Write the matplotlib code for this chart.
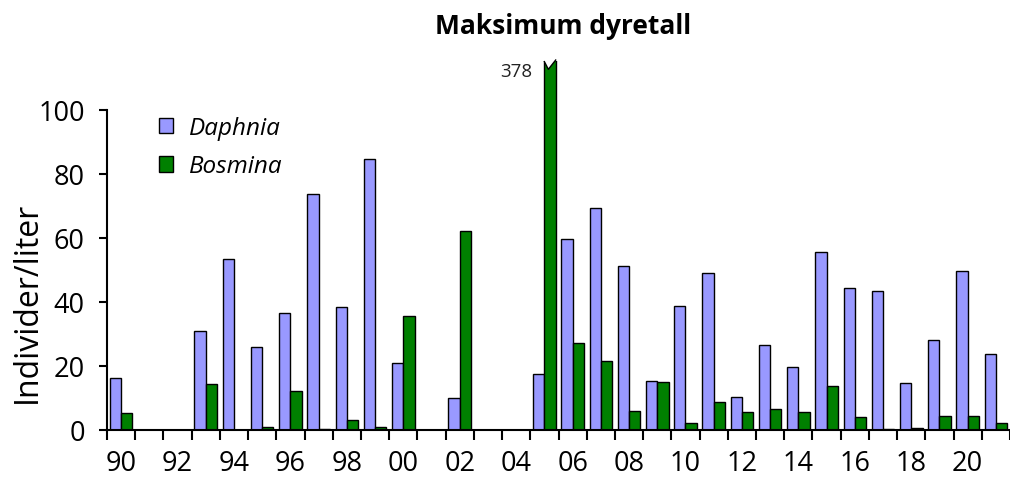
import matplotlib
matplotlib.use("Agg")
import matplotlib.pyplot as plt
from matplotlib.patches import Patch, Polygon
import numpy as np

plt.rcParams['font.family'] = ['Open Sans', 'DejaVu Sans']

years = list(range(1990, 2022))
daphnia = [16.4, 0, 0, 30.9, 53.5, 25.9, 36.6, 73.6, 38.5, 84.8, 20.8, 0, 10.0, 0, 0, 17.5,
           59.8, 69.3, 51.4, 15.4, 38.6, 49.0, 10.2, 26.7, 19.6, 55.7, 44.5, 43.3, 14.8, 28.2, 49.6, 23.9]
bosmina = [5.2, 0, 0, 14.3, 0, 0.9, 12.3, 0.2, 3.1, 0.9, 35.6, 0, 62.3, 0, 0, 378,
           27.2, 21.5, 5.9, 14.9, 2.2, 8.6, 5.5, 6.6, 5.5, 13.9, 4.1, 0.4, 0.5, 4.4, 4.4, 2.1]
tick_labels = ['90', '92', '94', '96', '98', '00', '02', '04', '06', '08', '10',
               '12', '14', '16', '18', '20']

W, H = 1010, 481
fig = plt.figure(figsize=(W / 100, H / 100), dpi=100)
ax = fig.add_axes([107 / W, 50 / H, (1010 - 107) / W, (431 - 62) / H])

YTOP = 115.3
x = np.arange(len(years))
bw = 0.4
d_col = '#9999FF'
b_col = '#008000'
ax.bar(x + 0.5 - bw / 2, daphnia, bw, color=d_col, edgecolor='black', linewidth=1.0)
ax.bar(x + 0.5 + bw / 2, [min(v, YTOP + 2) for v in bosmina], bw, color=b_col,
       edgecolor='black', linewidth=1.0)

# break marks for bars exceeding the axis
for i, v in enumerate(bosmina):
    if v > YTOP:
        x0 = x[i] + 0.5
        x1 = x0 + bw
        xm = x0 + bw * 0.35
        ax.add_patch(Polygon([(x0 - 0.05, YTOP + 0.1), (x0, YTOP - 0.2), (xm, YTOP - 2.6),
                              (x1, YTOP + 0.3), (x1 + 0.05, YTOP + 0.3)],
                             closed=True, facecolor='white', edgecolor='none', zorder=5,
                             clip_on=False))
        ax.plot([x0, xm, x1], [YTOP - 0.2, YTOP - 2.6, YTOP + 0.3], color='black',
                lw=1.0, zorder=6, clip_on=False)
        ax.text(x[i] + 0.08, YTOP - 3.2, f'{v:g}', ha='right', va='center',
                fontsize=13.5, color='#222222')

ax.set_xlim(0, len(years))
ax.set_ylim(0, YTOP)

ax.spines['top'].set_visible(False)
ax.spines['right'].set_visible(False)
ax.spines['left'].set_bounds(0, 100)
ax.spines['left'].set_linewidth(1.5)
ax.spines['bottom'].set_linewidth(1.5)

ax.set_yticks([0, 20, 40, 60, 80, 100])
ax.tick_params(axis='y', direction='out', length=6, width=1.5, labelsize=19.5, pad=10)

ax.set_xticks(np.arange(0, len(years) + 1))
ax.set_xticklabels([])
ax.tick_params(axis='x', which='major', direction='out', length=7, width=1.5)
ax.set_xticks(np.arange(0, len(years), 2) + 0.5, minor=True)
ax.set_xticklabels(tick_labels, minor=True)
ax.tick_params(axis='x', which='minor', length=0, labelsize=19.5, pad=14)

fig.text(563 / W, 1 - 26 / H, 'Maksimum dyretall', ha='center', va='center',
         fontsize=19, fontweight='bold')
fig.text(27 / W, 1 - 302 / H, 'Individer/liter', ha='center', va='center',
         rotation=90, fontsize=23)

handles = [Patch(facecolor=d_col, edgecolor='black', label='Daphnia'),
           Patch(facecolor=b_col, edgecolor='black', label='Bosmina')]
fig.legend(handles=handles, loc='upper left', bbox_to_anchor=(137 / W, 1 - 95 / H),
           frameon=False, prop={'style': 'italic', 'size': 17.5},
           handlelength=0.6, handleheight=0.6, handletextpad=0.65, labelspacing=0.6)

fig.savefig('out.png', dpi=100)
